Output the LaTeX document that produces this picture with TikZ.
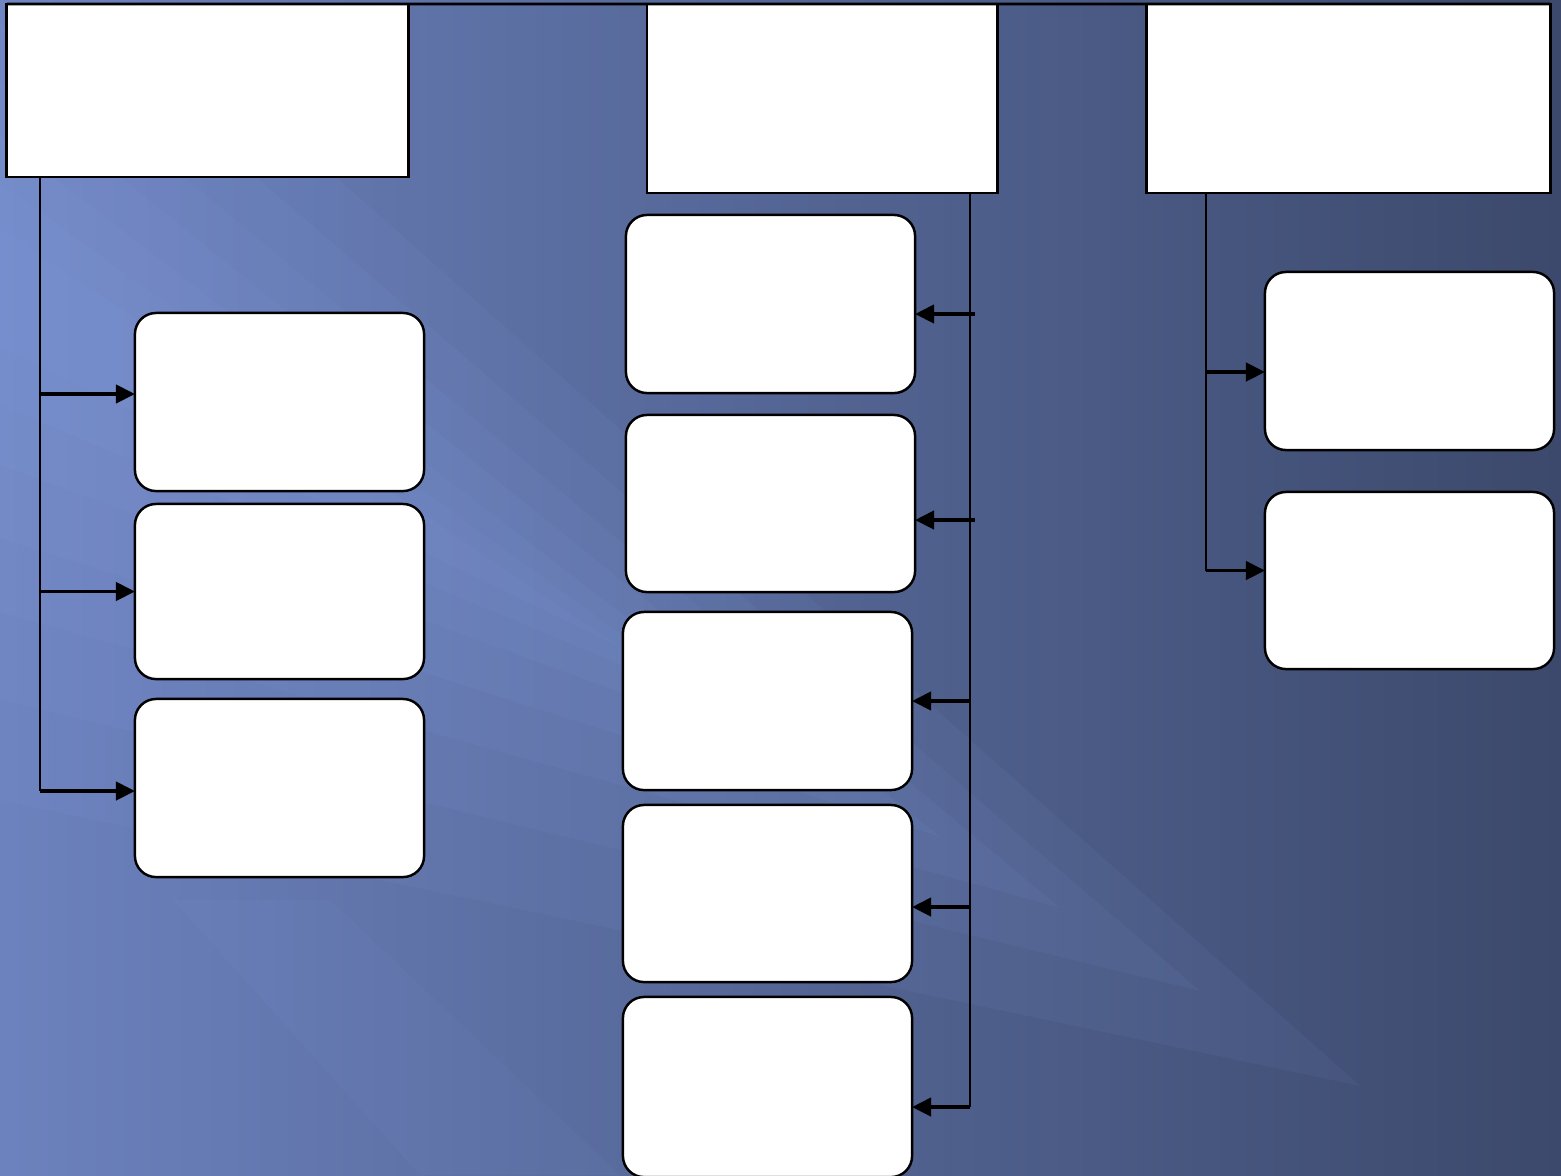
\documentclass[tikz,border=0pt]{standalone}
\usetikzlibrary{arrows.meta,positioning}
\definecolor{slatelight}{RGB}{108,130,190}
\definecolor{slatedeep}{RGB}{60,73,108}
\definecolor{streakblue}{RGB}{142,168,235}

\tikzset{
  headbox/.style={draw=black, line width=0.8pt, fill=white,
    inner sep=0pt, outer sep=0pt},
  itembox/.style={draw=black, line width=0.7pt, fill=white,
    rounded corners=6pt, inner sep=0pt, outer sep=0pt,
    minimum width=2.89cm, minimum height=1.77cm},
  trunk/.style={draw=black, line width=0.45pt},
  feed/.style={draw=black, line width=1pt,
    -{Triangle[length=5.4pt,width=5.2pt]}}
}

\begin{document}
\begin{tikzpicture}[x=0.01cm, y=-0.01cm]
        \useasboundingbox (0,0) rectangle (1561,1175);
        \clip (0,0) rectangle (1561,1175);
        % backdrop
        \shade[left color=slatelight, right color=slatedeep]
          (0,0) rectangle (1561,1175);
        \foreach \w in {60,110,160,220,280,350,430}{
          \pgfmathsetmacro\tipx{500+2*\w}
          \pgfmathsetmacro\tipy{220+0.593*(\tipx+100)}
          \fill[streakblue, fill opacity=0.065]
            (-100,220-\w) -- (\tipx,\tipy) -- (-100,220+1.3*\w) -- cycle;
        }
        \fill[streakblue, fill opacity=0.05]
          (173,900) -- (420,1175) -- (620,1175) -- (330,900) -- cycle;

        % heads
        \node[headbox, minimum width=4.01cm, minimum height=1.73cm] (t1) at (207.5,90.5) {};
        \node[headbox, minimum width=3.50cm, minimum height=1.89cm] (t2) at (822,98.5) {};
        \node[headbox, minimum width=4.03cm, minimum height=1.89cm] (t3) at (1348.5,98.5) {};
        \draw[trunk, line width=0.8pt] (t1.north west) -- (t3.north east);

        % left column
        \node[itembox, minimum height=1.78cm] (l1) at (279.5,402) {};
        \node[itembox, minimum height=1.75cm] (l2) at (279.5,591.5) {};
        \node[itembox, minimum height=1.78cm] (l3) at (279.5,788) {};
        \coordinate (ltop) at (40,177);
        \draw[trunk] (ltop) -- ([yshift=-0.03cm]l3.west -| ltop);
        \draw[feed] ([yshift=0.08cm]l1.west -| ltop) -- ([yshift=0.08cm]l1.west);
        \draw[feed] (l2.west -| ltop) -- (l2.west);
        \draw[feed] ([yshift=-0.03cm]l3.west -| ltop) -- ([yshift=-0.03cm]l3.west);

        % middle column
        \node[itembox, minimum height=1.78cm] (m1) at (770.5,304) {};
        \node[itembox] (m2) at (770.5,503.5) {};
        \node[itembox, minimum height=1.78cm] (m3) at (767.5,701) {};
        \node[itembox] (m4) at (767.5,893.5) {};
        \node[itembox, minimum height=1.80cm] (m5) at (767.5,1087) {};
        \coordinate (mtop) at (970,193);
        \draw[trunk] (mtop) -- ([yshift=-0.2cm]m5.east -| mtop);
        \draw[feed] ([xshift=0.05cm,yshift=-0.1cm]m1.east -| mtop) -- ([yshift=-0.1cm]m1.east);
        \draw[feed] ([xshift=0.05cm,yshift=-0.165cm]m2.east -| mtop) -- ([yshift=-0.165cm]m2.east);
        \draw[feed] (m3.east -| mtop) -- (m3.east);
        \draw[feed] ([yshift=-0.135cm]m4.east -| mtop) -- ([yshift=-0.135cm]m4.east);
        \draw[feed] ([yshift=-0.2cm]m5.east -| mtop) -- ([yshift=-0.2cm]m5.east);

        % right column
        \node[itembox, minimum height=1.78cm] (r1) at (1409.5,361) {};
        \node[itembox] (r2) at (1409.5,580.5) {};
        \coordinate (rtop) at (1206,193);
        \draw[trunk] (rtop) -- ([yshift=0.1cm]r2.west -| rtop);
        \draw[feed] ([yshift=-0.11cm]r1.west -| rtop) -- ([yshift=-0.11cm]r1.west);
        \draw[feed] ([yshift=0.1cm]r2.west -| rtop) -- ([yshift=0.1cm]r2.west);
      \end{tikzpicture}
\end{document}
